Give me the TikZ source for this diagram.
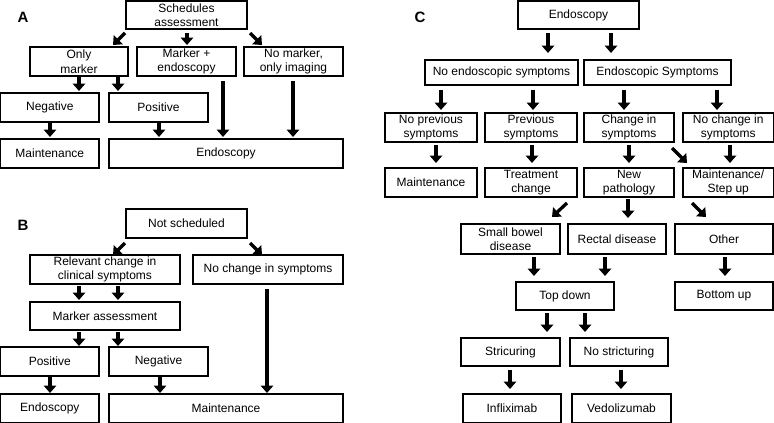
\documentclass[tikz,border=0pt]{standalone}
\usepackage{fontspec}
\setmainfont{Liberation Sans}
\usetikzlibrary{arrows.meta}
\tikzset{
  box/.style={draw=black,line width=1.1pt,inner sep=0pt,outer sep=0pt,align=center,
    font=\fontsize{12}{14.5}\selectfont,fill=white},
  arr/.style={line width=3.3pt,-{Triangle[width=12.5pt,length=7.5pt]}},
  plabel/.style={font=\fontsize{15}{15}\bfseries\selectfont,inner sep=0pt}
}
\newcommand\bx[6]{\pgfmathsetmacro\bw{#4-#2}\pgfmathsetmacro\bh{#5-#3}%
  \node[box,minimum width=\bw pt,minimum height=\bh pt] (#1) at ({(#2+#4)/2},{(#3+#5)/2}) {#6};}
\newcommand\ar[5]{\coordinate (#1s) at (#2,#3); \coordinate (#1e) at (#4,#5); \draw[arr] (#1s) -- (#1e);}
\begin{document}
\begin{tikzpicture}[x=1pt,y=-1pt]
\useasboundingbox (0,0) rectangle (774,423);
% Panel A
\node[plabel] (la) at (23,17) {A};
\bx{a0}{126}{1}{247}{29}{Schedules\\assessment}
\bx{a1}{30}{47}{128}{76}{Only\\marker}
\bx{a2}{137}{47}{236}{76}{Marker +\\endoscopy}
\bx{a3}{244}{47}{343}{76}{No marker,\\only imaging}
\bx{a4}{0.6}{93}{99}{122}{Negative}
\bx{a5}{109}{93}{208}{122}{Positive}
\bx{a6}{0.6}{139}{99}{168}{Maintenance}
\bx{a7}{109}{139}{343}{168}{Endoscopy}
\ar{aa1}{125}{33}{113}{45}
\ar{aa2}{187}{33}{187}{45}
\ar{aa3}{250}{33}{262}{45}
\ar{aa4}{79}{77}{79}{91}
\ar{aa5}{118}{77}{118}{91}
\ar{aa6}{223}{81}{223}{137}
\ar{aa7}{293}{81}{293}{137}
\ar{aa8}{50}{123}{50}{137}
\ar{aa9}{159}{123}{159}{137}
% Panel B
\node[plabel] (lb) at (23,225) {B};
\bx{b0}{126}{209}{247}{238}{Not scheduled}
\bx{b1}{30}{255}{180}{284}{Relevant change in\\clinical symptoms}
\bx{b2}{193}{255}{343}{284}{No change in symptoms}
\bx{b3}{30}{302}{180}{330}{Marker assessment}
\bx{b4}{0.6}{347}{99}{376}{Positive}
\bx{b5}{109}{347}{208}{376}{Negative}
\bx{b6}{0.6}{394}{99}{422.4}{Endoscopy}
\bx{b7}{109}{394}{343}{422.4}{Maintenance}
\ar{ba1}{125}{243}{113}{255}
\ar{ba2}{250}{243}{262}{255}
\ar{ba3}{79}{286}{79}{300}
\ar{ba4}{118}{286}{118}{300}
\ar{ba5}{79}{332}{79}{346}
\ar{ba6}{118}{332}{118}{346}
\ar{ba7}{267}{289}{267}{393}
\ar{ba8}{50}{377}{50}{393}
\ar{ba9}{160}{377}{160}{393}
% Panel C
\node[plabel] (lc) at (420,17) {C};
\bx{c0}{518}{1}{639}{29}{Endoscopy}
\bx{c1}{425}{60}{578}{85}{No endoscopic symptoms}
\bx{c2}{584}{60}{731}{85}{Endoscopic Symptoms}
\bx{c3}{385}{113}{477}{142}{No previous\\symptoms}
\bx{c4}{485}{113}{577}{142}{Previous\\symptoms}
\bx{c5}{584}{113}{674}{142}{Change in\\symptoms}
\bx{c6}{683}{113}{773.4}{142}{No change in\\symptoms}
\bx{c7}{385}{168}{477}{197}{Maintenance}
\bx{c8}{485}{168}{577}{197}{Treatment\\change}
\bx{c9}{584}{168}{674}{197}{New\\pathology}
\bx{c10}{683}{168}{773.4}{197}{Maintenance/\\Step up}
\bx{c11}{461}{224}{560}{254}{Small bowel\\disease}
\bx{c12}{568}{224}{666}{254}{Rectal disease}
\bx{c13}{675}{224}{773}{254}{Other}
\bx{c14}{516}{282}{614}{310}{Top down}
\bx{c15}{675}{282}{773}{310}{Bottom up}
\bx{c16}{461}{338}{560}{366}{Stricuring}
\bx{c17}{570}{338}{668}{366}{No stricturing}
\bx{c18}{463}{394}{561}{422.4}{Infliximab}
\bx{c19}{572}{394}{671}{422.4}{Vedolizumab}
\ar{ca1}{548}{33}{548}{53}
\ar{ca2}{611}{33}{611}{53}
\ar{ca3}{441}{90}{441}{110}
\ar{ca4}{533}{90}{533}{110}
\ar{ca5}{624}{90}{624}{110}
\ar{ca6}{717}{90}{717}{110}
\ar{ca7}{436}{145}{436}{163}
\ar{ca8}{532}{145}{532}{163}
\ar{ca9}{629}{145}{629}{163}
\ar{ca10}{730}{145}{730}{163}
\ar{ca11}{672}{148}{687}{163}
\ar{ca12}{567}{203}{552}{217}
\ar{ca13}{628}{199}{628}{218}
\ar{ca14}{692}{203}{706}{217}
\ar{ca15}{534}{257}{534}{276}
\ar{ca16}{605}{257}{605}{276}
\ar{ca17}{725}{257}{725}{276}
\ar{ca18}{547}{313}{547}{332}
\ar{ca19}{585}{313}{585}{332}
\ar{ca20}{510}{370}{510}{389}
\ar{ca21}{621}{370}{621}{389}
\end{tikzpicture}
\end{document}
